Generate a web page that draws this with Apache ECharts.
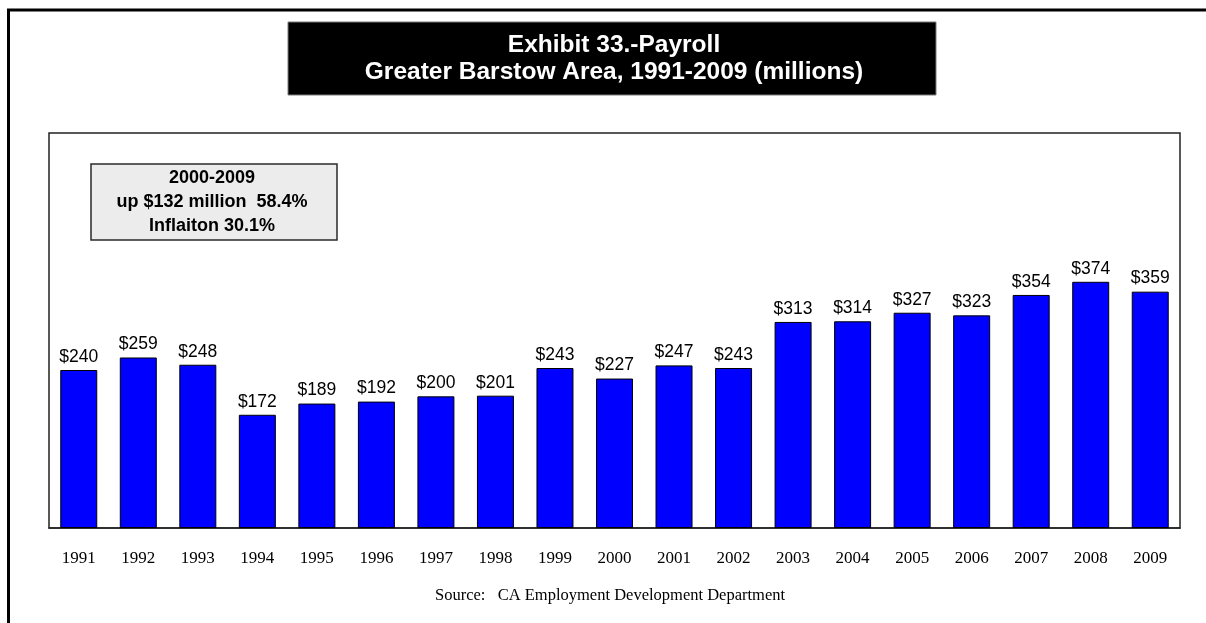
<!DOCTYPE html>
<html>
<head>
<meta charset="utf-8">
<title>Exhibit 33 - Payroll, Greater Barstow Area</title>
<script src="https://cdn.jsdelivr.net/npm/echarts@6/dist/echarts.min.js"></script>
<style>
  html, body { margin: 0; padding: 0; background: #ffffff; }
  #chart { width: 1206px; height: 623px; }
</style>
</head>
<body>
<div id="chart"></div>
<script>
// Annual payroll, Greater Barstow Area (millions of dollars)
const years = ['1991', '1992', '1993', '1994', '1995', '1996', '1997', '1998', '1999', '2000',
               '2001', '2002', '2003', '2004', '2005', '2006', '2007', '2008', '2009'];
const payroll = [240, 259, 248, 172, 189, 192, 200, 201, 243, 227,
                 247, 243, 313, 314, 327, 323, 354, 374, 359];
const titleLines = ['Exhibit 33.-Payroll', 'Greater Barstow Area, 1991-2009 (millions)'];
const noteLines = ['2000-2009', 'up $132 million  58.4%', 'Inflaiton 30.1%'];
const sourceText = 'Source:   CA Employment Development Department';

const sans = '"Liberation Sans", Arial, sans-serif';
const serif = '"Liberation Serif", "Times New Roman", serif';

const chart = echarts.init(document.getElementById('chart'), null, { renderer: 'canvas' });

chart.setOption({
  animation: false,
  backgroundColor: '#ffffff',
  grid: {
    left: 49, top: 133, right: 26, bottom: 95,
    show: true, borderColor: '#222222', borderWidth: 1.5, backgroundColor: 'transparent'
  },
  xAxis: {
    type: 'category',
    data: years,
    axisLine: { show: true, lineStyle: { color: '#222222', width: 1.5 } },
    axisTick: { show: false },
    axisLabel: { color: '#000000', fontFamily: serif, fontSize: 17, margin: 22 }
  },
  yAxis: {
    type: 'value',
    min: 0, max: 600,
    show: false,
    splitLine: { show: false }
  },
  series: [{
    type: 'bar',
    data: payroll,
    barWidth: 37,
    itemStyle: { color: '#0000ff', borderColor: '#000000', borderWidth: 1 },
    label: {
      show: true,
      position: 'top',
      distance: 4,
      formatter: p => '$' + p.value,
      color: '#000000',
      fontFamily: sans,
      fontSize: 17.5
    }
  }],
  graphic: [
    // outer frame
    {
      type: 'rect', z: 100,
      shape: { x: 8.5, y: 10, width: 1300, height: 800 },
      style: { fill: 'none', stroke: '#000000', lineWidth: 3 }
    },
    // title block
    {
      type: 'rect', z: 100,
      shape: { x: 288, y: 22, width: 648, height: 73 },
      style: { fill: '#000000', stroke: '#7a7a7a', lineWidth: 1 }
    },
    {
      type: 'text', z: 101, x: 614, y: 45,
      style: { text: titleLines[0], fill: '#ffffff', font: 'bold 24.5px ' + sans, align: 'center', verticalAlign: 'middle' }
    },
    {
      type: 'text', z: 101, x: 614, y: 72,
      style: { text: titleLines[1], fill: '#ffffff', font: 'bold 24.5px ' + sans, align: 'center', verticalAlign: 'middle' }
    },
    // note box
    {
      type: 'rect', z: 100,
      shape: { x: 91, y: 164, width: 246, height: 76 },
      style: { fill: '#ececec', stroke: '#2a2a2a', lineWidth: 1.5 }
    },
    {
      type: 'text', z: 101, x: 212, y: 178,
      style: { text: noteLines[0], fill: '#000000', font: 'bold 18px ' + sans, align: 'center', verticalAlign: 'middle' }
    },
    {
      type: 'text', z: 101, x: 212, y: 202,
      style: { text: noteLines[1], fill: '#000000', font: 'bold 18px ' + sans, align: 'center', verticalAlign: 'middle' }
    },
    {
      type: 'text', z: 101, x: 212, y: 226,
      style: { text: noteLines[2], fill: '#000000', font: 'bold 18px ' + sans, align: 'center', verticalAlign: 'middle' }
    },
    // source line
    {
      type: 'text', z: 101, x: 610, y: 596,
      style: { text: sourceText, fill: '#000000', font: '16.5px ' + serif, align: 'center', verticalAlign: 'middle' }
    }
  ]
});
</script>
</body>
</html>
